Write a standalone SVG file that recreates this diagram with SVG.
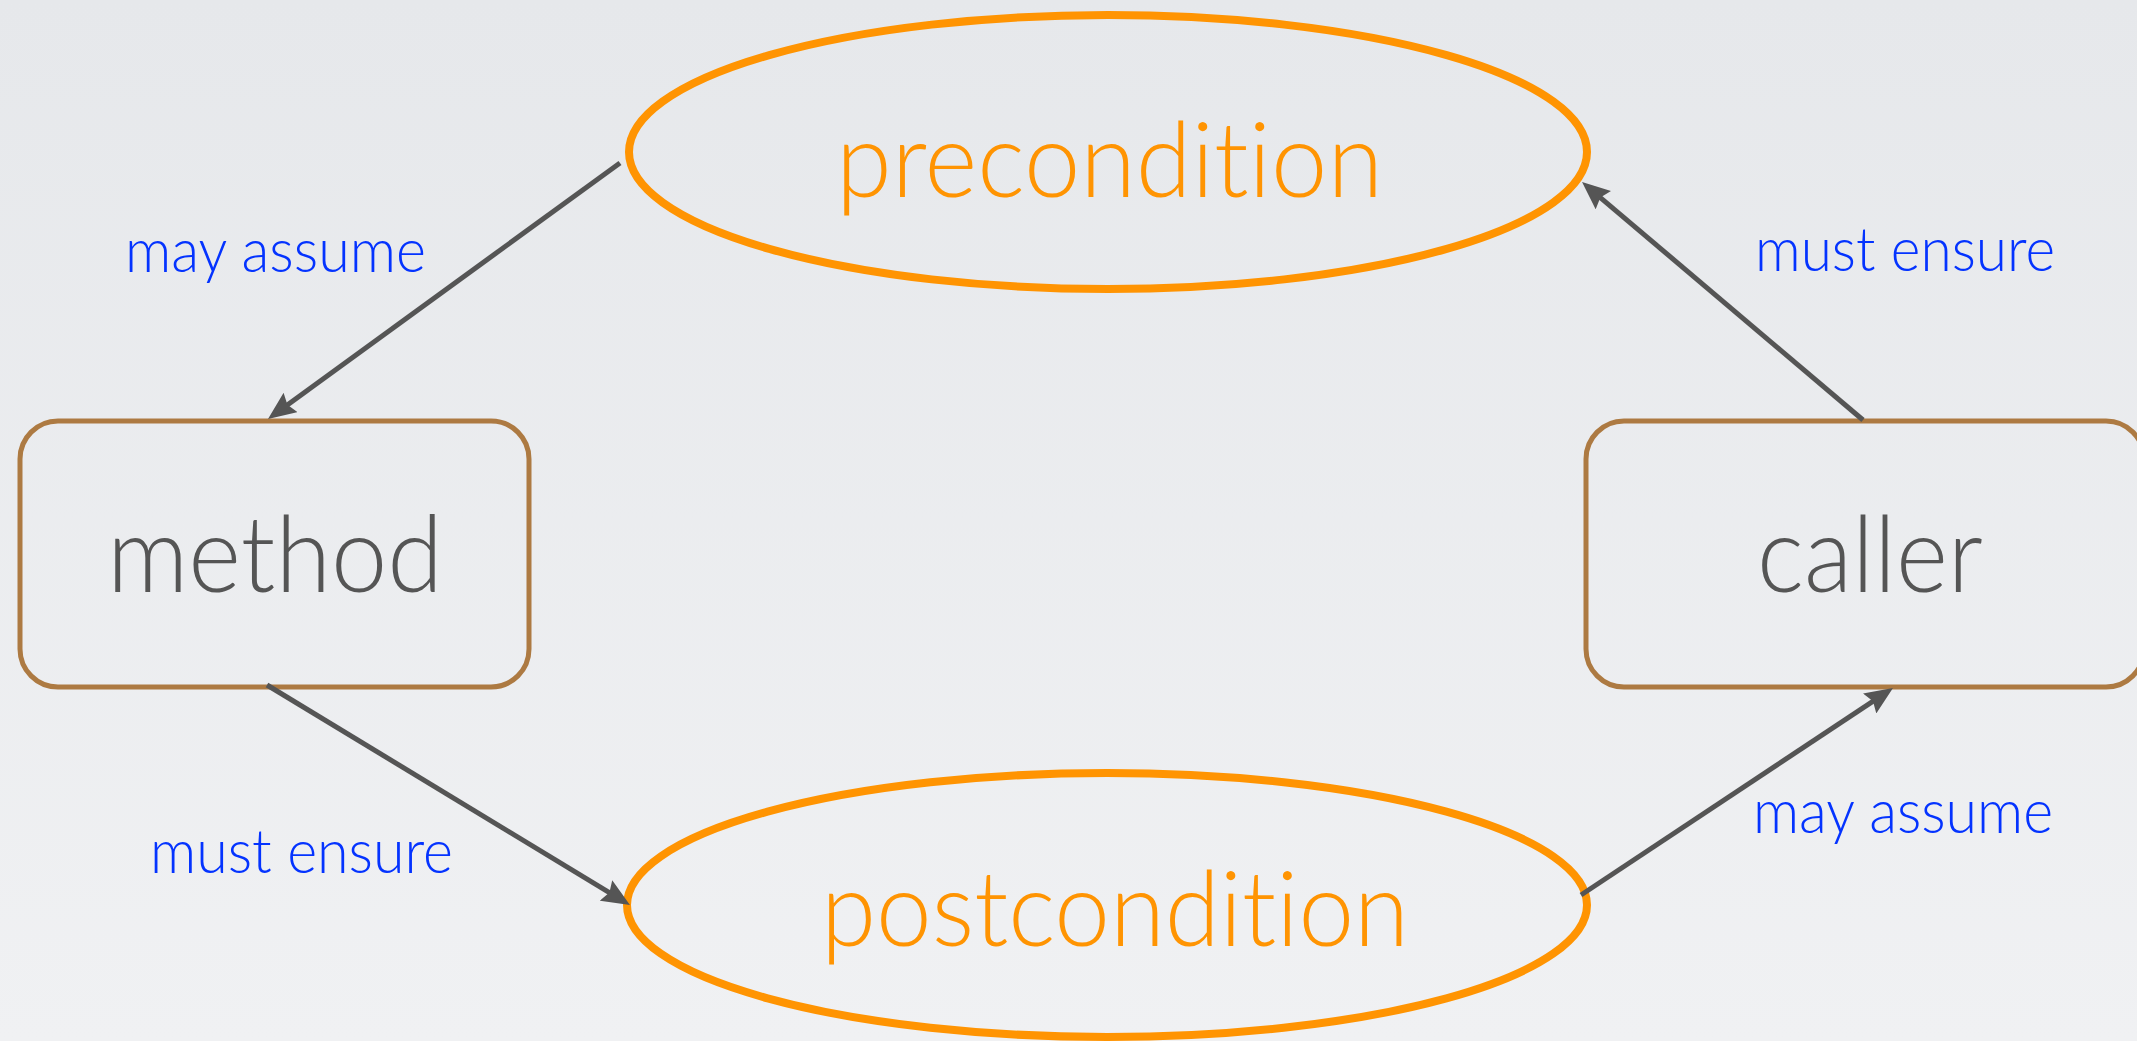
<svg xmlns="http://www.w3.org/2000/svg" width="2137" height="1041" viewBox="0 0 2137 1041">
  <defs>
    <linearGradient id="bg" x1="0" y1="0" x2="0" y2="1">
      <stop offset="0" stop-color="#E6E8EB"/>
      <stop offset="1" stop-color="#F0F1F3"/>
    </linearGradient>
    <marker id="head" markerUnits="userSpaceOnUse" viewBox="0 0 28 24" markerWidth="28" markerHeight="24" refX="16" refY="12" orient="auto">
      <path d="M0,0 L28,12 L0,24 L4,12 Z" fill="#555555"/>
    </marker>
    <style>
      text { font-variant-ligatures: none; font-feature-settings: "liga" 0, "dlig" 0; }
      .cond { fill: none; stroke: #FF9402; stroke-width: 8; }
      .cond-text { font-family: "Lato", "Open Sans", "Liberation Sans", sans-serif; font-weight: 300; font-size: 104px; fill: #FF9402; }
      .box { fill: none; stroke: #AD7A42; stroke-width: 5; }
      .box-text { font-family: "Lato", "Open Sans", "Liberation Sans", sans-serif; font-weight: 300; font-size: 106px; fill: #555555; }
      .edge { stroke: #555555; stroke-width: 5; fill: none; marker-end: url(#head); }
      .edge-label { font-family: "Lato", "Open Sans", "Liberation Sans", sans-serif; font-weight: 300; font-size: 62px; fill: #0433FF; }
    </style>
  </defs>

  <rect x="0" y="0" width="2137" height="1041" fill="url(#bg)"/>

  <g id="precondition">
    <ellipse class="cond" cx="1108" cy="152" rx="479" ry="137"/>
    <text class="cond-text" x="836" y="197" textLength="547" lengthAdjust="spacingAndGlyphs">precondition</text>
  </g>

  <g id="postcondition">
    <ellipse class="cond" cx="1107" cy="905" rx="480" ry="132"/>
    <text class="cond-text" x="821" y="946" textLength="588" lengthAdjust="spacingAndGlyphs">postcondition</text>
  </g>

  <g id="method">
    <rect class="box" x="20" y="421" width="509" height="266" rx="38" ry="38"/>
    <text class="box-text" x="107" y="592" textLength="336" lengthAdjust="spacingAndGlyphs">method</text>
  </g>

  <g id="caller">
    <rect class="box" x="1586" y="421" width="558" height="266" rx="38" ry="38"/>
    <text class="box-text" x="1757" y="592" textLength="226" lengthAdjust="spacingAndGlyphs">caller</text>
  </g>

  <g id="connectors">
    <line class="edge" x1="620" y1="163" x2="277.7" y2="411.9"/>
    <line class="edge" x1="1863" y1="420" x2="1591.2" y2="189.8"/>
    <line class="edge" x1="267" y1="685" x2="619.7" y2="898.8"/>
    <line class="edge" x1="1581" y1="895" x2="1883" y2="694.6"/>
    <text class="edge-label" x="125" y="272" textLength="301" lengthAdjust="spacingAndGlyphs">may assume</text>
    <text class="edge-label" x="1755" y="271" textLength="300" lengthAdjust="spacingAndGlyphs">must ensure</text>
    <text class="edge-label" x="150" y="873" textLength="303" lengthAdjust="spacingAndGlyphs">must ensure</text>
    <text class="edge-label" x="1753" y="833" textLength="300" lengthAdjust="spacingAndGlyphs">may assume</text>
  </g>
</svg>
